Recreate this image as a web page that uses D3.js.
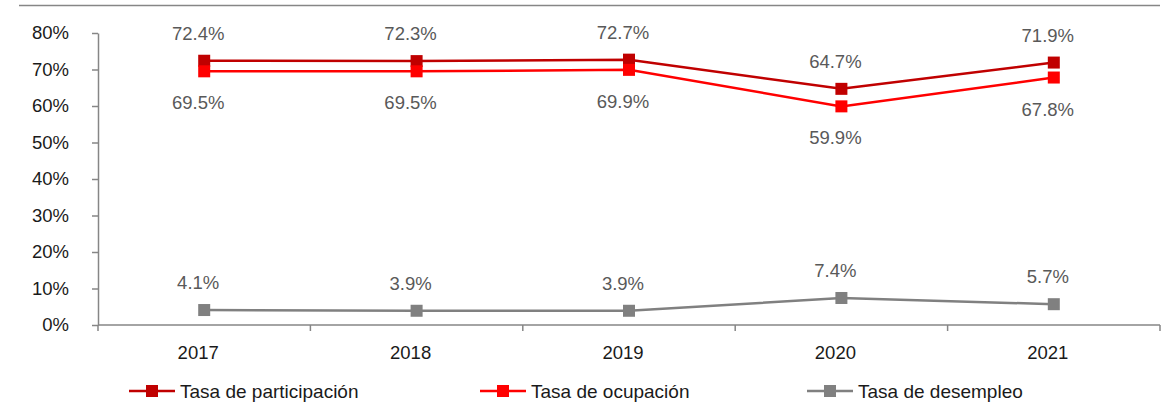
<!DOCTYPE html>
<html>
<head>
<meta charset="utf-8">
<script src="https://cdn.jsdelivr.net/npm/d3@7"></script>
<style>
  body { margin: 0; background: #fff; }
  text { font-family: "Liberation Sans", Arial, sans-serif; }
</style>
</head>
<body>
<div id="chart"></div>
<script>
// data
var years = ["2017", "2018", "2019", "2020", "2021"];
var participacion = [72.4, 72.3, 72.7, 64.7, 71.9];
var ocupacion = [69.5, 69.5, 69.9, 59.9, 67.8];
var desempleo = [4.1, 3.9, 3.9, 7.4, 5.7];
var yTicks = [0, 10, 20, 30, 40, 50, 60, 70, 80];

var series = [
  { name: "Tasa de participación", values: participacion, color: "#C00000", labelPos: "above" },
  { name: "Tasa de ocupación", values: ocupacion, color: "#FF0000", labelPos: "below" },
  { name: "Tasa de desempleo", values: desempleo, color: "#808080", labelPos: "above" }
];

var svgWidth = 1166;
var svgHeight = 418;

var svg = d3.select("#chart")
  .append("svg")
  .attr("width", svgWidth)
  .attr("height", svgHeight);

// top border line
svg.append("line")
  .attr("x1", 19).attr("x2", 1160)
  .attr("y1", 5.5).attr("y2", 5.5)
  .attr("stroke", "#868686")
  .attr("stroke-width", 1.5);

var plotLeft = 98, plotRight = 1160, plotTop = 33, plotBottom = 325;

var x = d3.scaleBand()
  .domain(years)
  .range([plotLeft, plotRight]);

var y = d3.scaleLinear()
  .domain([0, 80])
  .range([plotBottom, plotTop]);

// y axis
var yAxis = svg.append("g")
  .attr("transform", `translate(${plotLeft},0)`)
  .call(d3.axisLeft(y).tickValues(yTicks).tickSize(6).tickSizeOuter(0).tickFormat(d => d + "%"));
yAxis.select(".domain").attr("stroke", "#868686").attr("stroke-width", 1.5);
yAxis.selectAll(".tick line").attr("stroke", "#868686").attr("stroke-width", 1.5);
yAxis.selectAll(".tick text")
  .attr("x", -29)
  .attr("font-size", "18.5px")
  .attr("font-family", "Liberation Sans, Arial, sans-serif")
  .attr("fill", "#1a1a1a");

// x axis with ticks at category boundaries
var xAxis = svg.append("g")
  .attr("transform", `translate(0,${plotBottom})`);
xAxis.append("line")
  .attr("x1", plotLeft).attr("x2", plotRight)
  .attr("y1", 0).attr("y2", 0)
  .attr("stroke", "#868686").attr("stroke-width", 1.5);
var bounds = years.map(d => x(d)).concat([plotRight]);
xAxis.selectAll(".bnd")
  .data(bounds)
  .enter()
  .append("line")
  .attr("x1", d => d).attr("x2", d => d)
  .attr("y1", 0).attr("y2", 6)
  .attr("stroke", "#868686").attr("stroke-width", 1.5);
xAxis.selectAll(".yl")
  .data(years)
  .enter()
  .append("text")
  .attr("x", d => x(d) + x.bandwidth() / 2 - 6)
  .attr("y", 34)
  .attr("text-anchor", "middle")
  .attr("font-size", "18.5px")
  .attr("fill", "#1a1a1a")
  .text(d => d);

var cx = (d, i) => x(years[i]) + x.bandwidth() / 2;

var line = d3.line()
  .x((d, i) => cx(d, i))
  .y(d => y(d));

series.forEach(function(s) {
  svg.append("path")
    .datum(s.values)
    .attr("d", line)
    .attr("fill", "none")
    .attr("stroke", s.color)
    .attr("stroke-width", 2.5);

  svg.selectAll(null)
    .data(s.values)
    .enter()
    .append("rect")
    .attr("x", (d, i) => cx(d, i) - 6)
    .attr("y", d => y(d) - 6)
    .attr("width", 12)
    .attr("height", 12)
    .attr("fill", s.color);

  svg.selectAll(null)
    .data(s.values)
    .enter()
    .append("text")
    .attr("x", (d, i) => cx(d, i) - 6)
    .attr("y", d => s.labelPos === "above" ? y(d) - 21 : y(d) + 38)
    .attr("text-anchor", "middle")
    .attr("font-size", "18.5px")
    .attr("fill", "#595959")
    .text(d => d.toFixed(1) + "%");
});

// legend
var legendX = [129, 480, 807];
var legend = svg.selectAll(".legend")
  .data(series)
  .enter()
  .append("g")
  .attr("transform", (d, i) => `translate(${legendX[i]},391)`);
legend.append("line")
  .attr("x1", 0).attr("x2", 46)
  .attr("stroke", d => d.color)
  .attr("stroke-width", 2.5);
legend.append("rect")
  .attr("x", 17).attr("y", -6)
  .attr("width", 12).attr("height", 12)
  .attr("fill", d => d.color);
legend.append("text")
  .attr("x", 51)
  .attr("y", 7)
  .attr("font-size", "19px")
  .attr("fill", "#1a1a1a")
  .text(d => d.name);
</script>
</body>
</html>
